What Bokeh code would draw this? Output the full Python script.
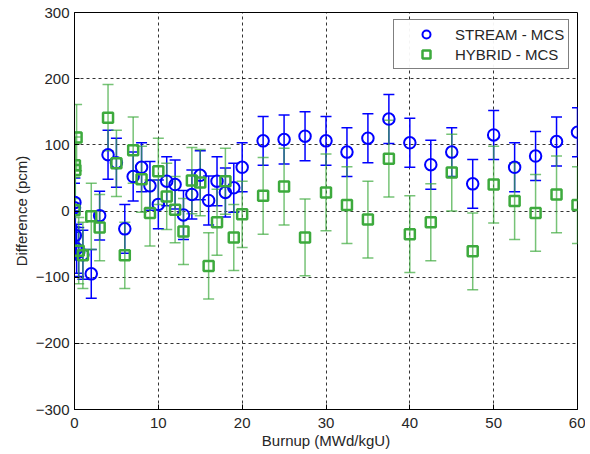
from bokeh.plotting import figure
from bokeh.models import ColumnDataSource, Whisker, TeeHead, Legend, LegendItem, FixedTicker
from bokeh.embed import file_html
from bokeh.resources import INLINE

burnup = [0, 0.05, 0.1, 0.25, 0.5, 1, 2, 3, 4, 5, 6, 7, 8, 9, 10, 11, 12, 13, 14, 15, 16, 17, 18, 19, 20,
          22.5, 25, 27.5, 30, 32.5, 35, 37.5, 40, 42.5, 45, 47.5, 50, 52.5, 55, 57.5, 60]
stream_mcs = [5, 13, -37, -57, -62, -66, -95, -7, 85, 73, -27, 52, 66, 38, 10, 45, 40, -6, 25, 54, 16, 45, 28, 35, 66,
              106, 108, 113, 106, 89, 110, 139, 103, 70, 89, 41, 115, 66, 83, 105, 119]
stream_err = [37] * len(burnup)
hybrid_mcs = [1, 69, 62, 111, -60, -67, -8, -25, 141, 72, -67, 92, 48, -3, 60, 22, 2, -31, 46, 43, -83, -17, 45, -40, -5,
              23, 37, -40, 28, 9, -13, 79, -35, -17, 58, -61, 40, 15, -3, 25, 9]
hybrid_err = [50] * 25 + [58] * 16

x_ticks = [0, 10, 20, 30, 40, 50, 60]
y_ticks = [-300, -200, -100, 0, 100, 200, 300]

BLUE = "#0000FF"
GREEN = "#3DAA3D"
FONT = "Liberation Sans"
FS = "15px"

s_src = ColumnDataSource(dict(x=burnup, y=stream_mcs,
                              lo=[v - e for v, e in zip(stream_mcs, stream_err)],
                              hi=[v + e for v, e in zip(stream_mcs, stream_err)]))
h_src = ColumnDataSource(dict(x=burnup, y=hybrid_mcs,
                              lo=[v - e for v, e in zip(hybrid_mcs, hybrid_err)],
                              hi=[v + e for v, e in zip(hybrid_mcs, hybrid_err)]))

p = figure(width=585, height=453, output_backend="svg", toolbar_location=None,
           x_range=(0, 60), y_range=(-300, 300),
           min_border_left=74, min_border_right=8, min_border_top=12, min_border_bottom=44)
p.background_fill_color = "white"
p.border_fill_color = "white"
p.outline_line_color = "black"
p.outline_line_width = 1

xa = p.xaxis[0]
ya = p.yaxis[0]
for ax, ticks in ((xa, x_ticks), (ya, y_ticks)):
    ax.ticker = FixedTicker(ticks=ticks)
    ax.major_tick_in = 5
    ax.major_tick_out = 0
    ax.minor_tick_line_color = None
    ax.axis_line_color = "black"
    ax.major_tick_line_color = "black"
    ax.major_label_text_font = FONT
    ax.major_label_text_font_size = FS
    ax.major_label_text_color = "#262626"
    ax.axis_label_text_font = FONT
    ax.axis_label_text_font_size = FS
    ax.axis_label_text_font_style = "normal"
    ax.axis_label_text_color = "#262626"

xa.axis_label = "Burnup (MWd/kgU)"
ya.axis_label = "Difference (pcm)"
xa.axis_label_standoff = 1
ya.axis_label_standoff = 3
xa.major_label_standoff = 8
ya.major_label_standoff = 5

for grid in (p.xgrid[0], p.ygrid[0]):
    grid.grid_line_color = "black"
    grid.grid_line_dash = "3 3"
    grid.grid_line_width = 1
    grid.grid_line_alpha = 0.8
p.xgrid[0].ticker = FixedTicker(ticks=x_ticks)
p.ygrid[0].ticker = FixedTicker(ticks=y_ticks)

sw = Whisker(base="x", lower="lo", upper="hi", source=s_src, dimension="height",
             line_color=BLUE, line_width=1.5,
             upper_head=TeeHead(size=11, line_color=BLUE, line_width=1.5),
             lower_head=TeeHead(size=11, line_color=BLUE, line_width=1.5))
hw = Whisker(base="x", lower="lo", upper="hi", source=h_src, dimension="height",
             line_color=GREEN, line_width=1.5, line_alpha=0.7,
             upper_head=TeeHead(size=11, line_color=GREEN, line_width=1.5, line_alpha=0.7),
             lower_head=TeeHead(size=11, line_color=GREEN, line_width=1.5, line_alpha=0.7))
p.add_layout(sw)
p.add_layout(hw)

r_s = p.scatter("x", "y", source=s_src, marker="circle", size=11.5, fill_color=None,
                line_color=BLUE, line_width=2)
r_h = p.scatter("x", "y", source=h_src, marker="square", size=10, fill_color=None,
                line_color=GREEN, line_width=2.5)

legend = Legend(items=[LegendItem(label="STREAM - MCS", renderers=[r_s]),
                       LegendItem(label="HYBRID - MCS", renderers=[r_h])],
                location=(319, 340))
legend.border_line_color = "black"
legend.border_line_width = 1
legend.background_fill_color = "white"
legend.label_text_font = FONT
legend.label_text_font_size = FS
legend.label_text_color = "#262626"
legend.padding = 4
legend.spacing = 0
legend.glyph_width = 56
legend.glyph_height = 20
legend.label_height = 20
legend.label_standoff = 1
legend.margin = 0
p.add_layout(legend, "center")

out = file_html(p, INLINE)
open("out.html", "w").write(out)
